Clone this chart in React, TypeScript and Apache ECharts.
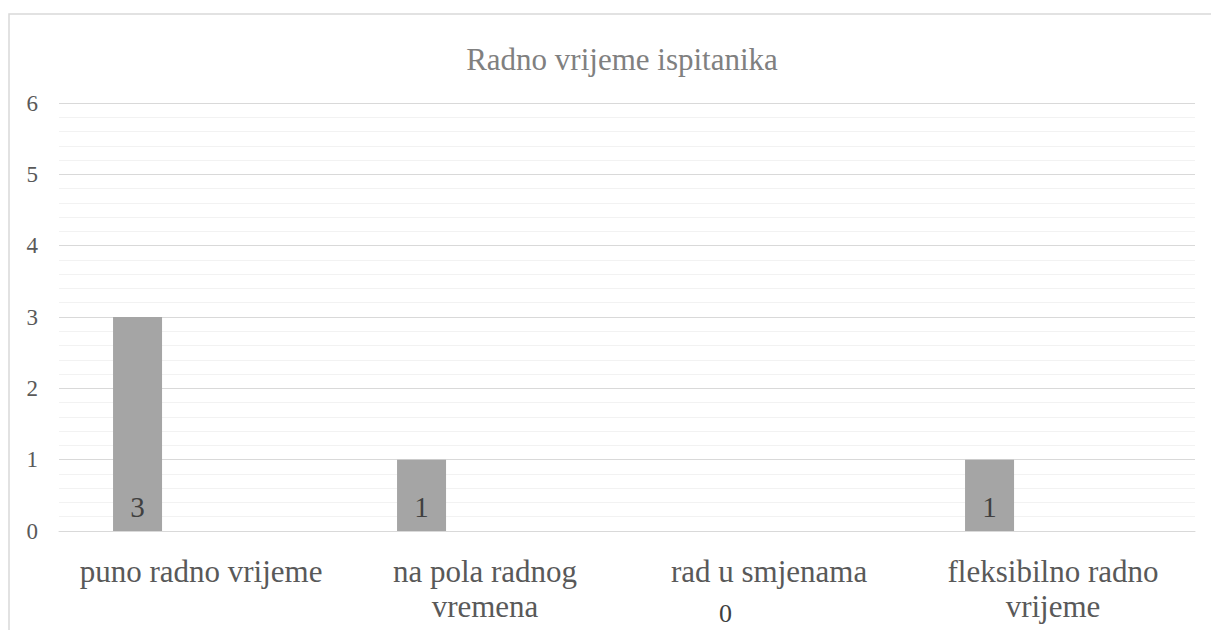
import React, { useEffect, useRef } from "react";
import * as echarts from "echarts";

const titleText = "Radno vrijeme ispitanika";
const categories = ["puno radno vrijeme", "na pola radnog vremena", "rad u smjenama", "fleksibilno radno vrijeme"];
const categoryLabels = ["puno radno vrijeme", "na pola radnog\nvremena", "rad u smjenama", "fleksibilno radno\nvrijeme"];
const values = [3, 1, 0, 1];
const emptySeries = [null, null, null, null];

export default function App() {
  const ref = useRef<HTMLDivElement>(null);
  useEffect(() => {
    if (!ref.current) return;
    const chart = echarts.init(ref.current, null, { renderer: "svg" });
    const font = "'Liberation Serif', 'Times New Roman', serif";
    chart.setOption({
      animation: false,
      backgroundColor: "#ffffff",
      title: {
        text: titleText,
        left: 617,
        top: 39,
        textAlign: "center",
        textStyle: { fontFamily: font, fontSize: 31, fontWeight: "normal", color: "#808080" },
      },
      graphic: [
        {
          type: "rect",
          shape: { x: 9, y: 14, width: 1220, height: 640 },
          style: { fill: "none", stroke: "#d9d9d9", lineWidth: 1.5 },
          silent: true,
        },
      ],
      grid: { left: 59, right: 16, top: 103, bottom: 99, containLabel: false },
      xAxis: {
        type: "category",
        data: categories,
        axisTick: { show: false },
        axisLine: { show: true, lineStyle: { color: "#d9d9d9", width: 1 } },
        axisLabel: {
          interval: 0,
          margin: 23,
          fontFamily: font,
          fontSize: 31,
          lineHeight: 35,
          color: "#595959",
          formatter: (_v: string, i: number) => categoryLabels[i],
        },
      },
      yAxis: {
        type: "value",
        min: 0,
        max: 6,
        interval: 1,
        axisLine: { show: false },
        axisTick: { show: false },
        axisLabel: { fontFamily: font, fontSize: 23, color: "#595959", margin: 21 },
        splitLine: { show: true, lineStyle: { color: "#d9d9d9", width: 1 } },
        minorTick: { show: false, splitNumber: 5 },
        minorSplitLine: { show: true, lineStyle: { color: "#f2f2f2", width: 1 } },
      },
      series: [
        {
          type: "bar",
          data: values.map((v) =>
            v === 0
              ? { value: v, label: { offset: [20, 106], fontSize: 26 } }
              : { value: v }
          ),
          barWidth: 49,
          barGap: "159%",
          itemStyle: { color: "#a5a5a5" },
          label: {
            show: true,
            position: "insideBottom",
            distance: 13,
            fontFamily: font,
            fontSize: 29,
            lineHeight: 22,
            color: "#404040",
          },
        },
        {
          type: "bar",
          data: emptySeries,
          barWidth: 49,
          itemStyle: { color: "#a5a5a5" },
        },
      ],
    });
    return () => chart.dispose();
  }, []);
  return (
    <div
      ref={ref}
      style={{ position: "absolute", left: 0, top: 0, width: 1211, height: 630 }}
    />
  );
}
